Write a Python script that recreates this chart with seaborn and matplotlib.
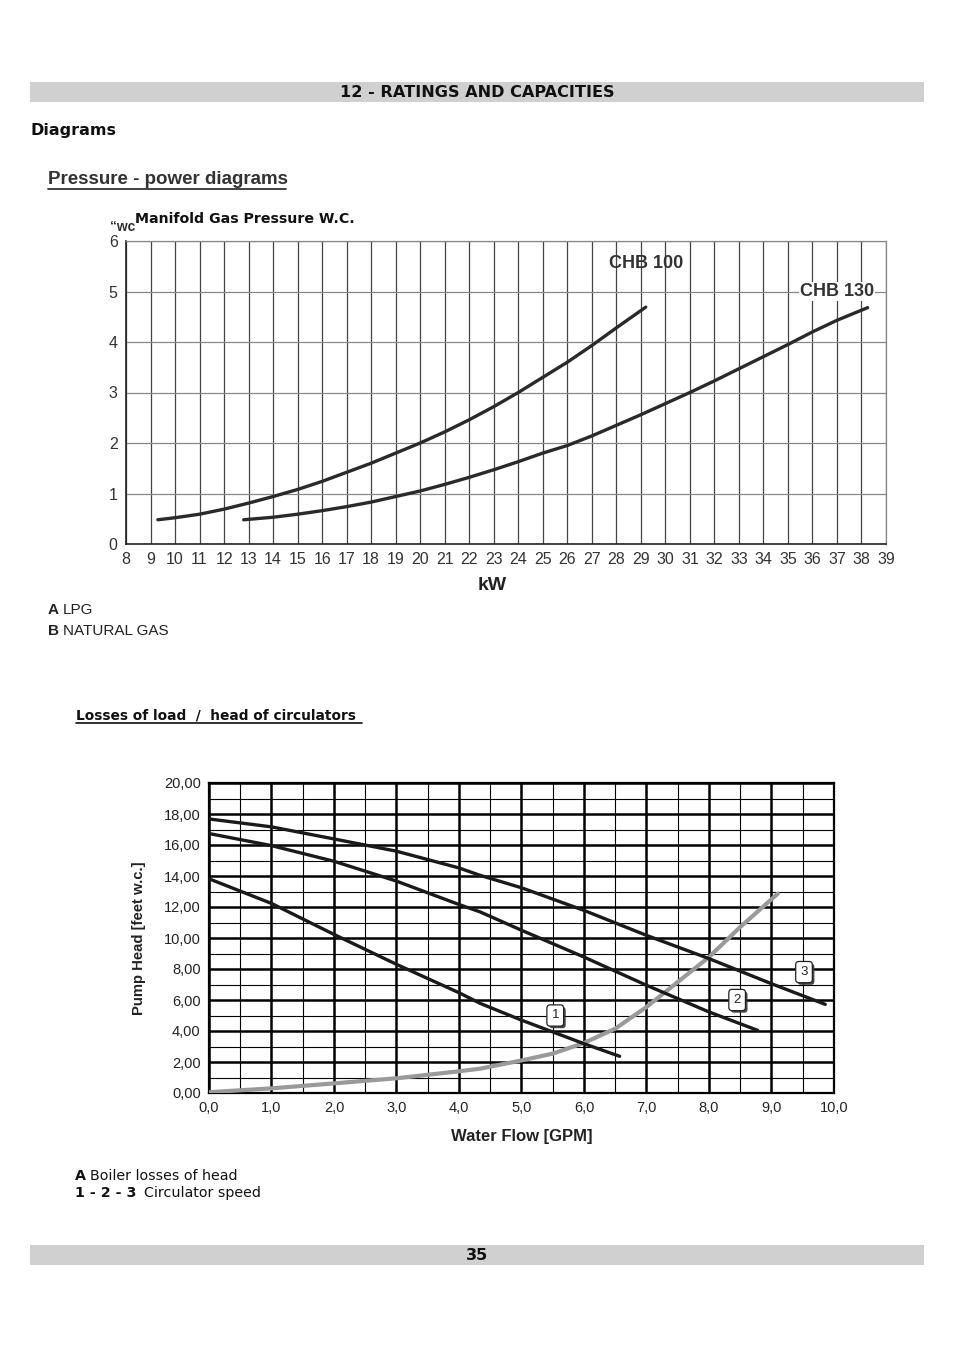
import matplotlib
matplotlib.use("Agg")
import matplotlib.pyplot as plt
import matplotlib.patheffects as pe
import seaborn as sns
import pandas as pd
from matplotlib.patches import Rectangle
from matplotlib.lines import Line2D

# ---------------- data ----------------
chb100_kw = [9.3, 10, 11, 12, 13, 14, 15, 16, 17, 18, 19, 20, 21, 22, 23, 24, 25, 26, 27, 28, 29.2]
chb100_p = [0.48, 0.52, 0.59, 0.69, 0.81, 0.94, 1.08, 1.24, 1.42, 1.60, 1.80, 2.00, 2.22, 2.46, 2.72,
            3.00, 3.30, 3.60, 3.93, 4.28, 4.69]
chb130_kw = [12.8, 14, 15, 16, 17, 18, 19, 20, 21, 22, 23, 24, 25, 26, 27, 28, 29, 30, 31, 32, 33,
             34, 35, 36, 37, 38.25]
chb130_p = [0.48, 0.53, 0.59, 0.66, 0.74, 0.83, 0.94, 1.05, 1.18, 1.32, 1.47, 1.63, 1.80, 1.95, 2.14,
            2.35, 2.56, 2.78, 3.00, 3.23, 3.47, 3.71, 3.95, 4.20, 4.43, 4.68]
top_xticks = list(range(8, 40))
top_yticks = list(range(0, 7))

flow_1 = [0, 1, 2, 3, 4, 4.34, 5, 5.5, 6, 6.57]
head_1 = [13.82, 12.23, 10.23, 8.30, 6.47, 5.78, 4.70, 3.94, 3.18, 2.37]
flow_2 = [0, 1, 2, 3, 4, 4.34, 5, 6, 7, 8, 8.78]
head_2 = [16.74, 15.96, 14.95, 13.67, 12.16, 11.68, 10.50, 8.77, 6.95, 5.23, 4.04]
flow_3 = [0, 1, 2, 3, 4, 4.34, 5, 6, 7, 8, 9, 9.86]
head_3 = [17.68, 17.17, 16.39, 15.60, 14.52, 14.04, 13.24, 11.78, 10.17, 8.67, 7.05, 5.72]
flow_A = [0, 1, 2, 3, 4, 4.34, 5, 5.5, 6, 6.5, 7, 7.5, 8, 8.5, 9.1]
loss_A = [0.05, 0.30, 0.62, 0.95, 1.40, 1.57, 2.10, 2.54, 3.23, 4.15, 5.55, 7.16, 8.77, 10.71, 12.86]
speed_labels = ["1", "2", "3"]
speed_label_pos = [(5.54, 5.0), (8.45, 6.0), (9.52, 7.8)]
bot_xticks = [0, 1, 2, 3, 4, 5, 6, 7, 8, 9, 10]
bot_yticks = [0, 2, 4, 6, 8, 10, 12, 14, 16, 18, 20]

# ---------------- figure ----------------
sns.set_style("white")
plt.rcParams['font.family'] = ['DejaVu Sans']
W, H = 954, 1350
fig = plt.figure(figsize=(W / 100, H / 100), dpi=100)

def fx(x):
    return x / W

def fy(y):
    return 1 - y / H

ARIAL = ['Liberation Sans', 'DejaVu Sans']
NARROW = ['Liberation Sans Narrow', 'Liberation Sans', 'DejaVu Sans']

# header / footer bars
for ytop, txt in [(82, "12 - RATINGS AND CAPACITIES"), (1245, "35")]:
    fig.patches.append(Rectangle((fx(30), fy(ytop + 20)), fx(894), 20 / H,
                                 transform=fig.transFigure, facecolor='#d0d0d0', edgecolor='none'))
    fig.text(fx(477), fy(ytop + 10.5), txt, ha='center', va='center', fontsize=11.6,
             fontweight='bold', color='#111111')

fig.text(fx(31), fy(130), "Diagrams", ha='left', va='center', fontsize=11.5, fontweight='bold',
         color='#111111')

fig.text(fx(48), fy(180), "Pressure - power diagrams", ha='left', va='center', fontsize=13.5,
         family=ARIAL, color='#333333', fontweight='bold')
fig.lines.append(Line2D([fx(48), fx(286)], [fy(189), fy(189)], transform=fig.transFigure,
                        color='#333333', lw=1.3))

# ---------------- top chart ----------------
ax1 = fig.add_axes([fx(126), fy(544), fx(760), 303 / H])
df100 = pd.DataFrame({"kW": chb100_kw, "p": chb100_p})
df130 = pd.DataFrame({"kW": chb130_kw, "p": chb130_p})
sns.lineplot(data=df100, x="kW", y="p", ax=ax1, color='#2a2a2a', lw=2.4, sort=False,
             estimator=None, zorder=5)
sns.lineplot(data=df130, x="kW", y="p", ax=ax1, color='#2a2a2a', lw=2.4, sort=False,
             estimator=None, zorder=5)
ax1.set_xlim(8, 39)
ax1.set_ylim(0, 6)
ax1.set_xticks(top_xticks)
ax1.set_yticks(top_yticks)
ax1.set_xticklabels([str(v) for v in top_xticks], family=NARROW, fontsize=11.5, color='#333333')
ax1.set_yticklabels([str(v) for v in top_yticks], family=NARROW, fontsize=11.5, color='#333333')
for v in top_xticks:
    ax1.axvline(v, color='#444444', lw=0.9, zorder=1)
for v in top_yticks:
    ax1.axhline(v, color='#888888', lw=0.9, zorder=1)
ax1.set_xlabel("")
ax1.set_ylabel("")
for s in ['top', 'right']:
    ax1.spines[s].set_color('#888888')
    ax1.spines[s].set_linewidth(0.9)
for s in ['left', 'bottom']:
    ax1.spines[s].set_color('#222222')
    ax1.spines[s].set_linewidth(1.2)
ax1.tick_params(axis='both', direction='out', length=4, width=1, color='#222222', pad=2)
ax1.text(29.2, 5.55, "CHB 100", ha='center', va='center', fontsize=13, fontweight='bold',
         family=ARIAL, color='#333333', zorder=6)
ax1.text(37.0, 5.0, "CHB 130", ha='center', va='center', fontsize=13, fontweight='bold',
         family=ARIAL, color='#333333', zorder=6,
         bbox=dict(facecolor='white', edgecolor='none', pad=0.5))

fig.text(fx(110), fy(227), "\u201cwc", ha='left', va='center', fontsize=10, fontweight='bold',
         family=NARROW, color='#333333')
fig.text(fx(135), fy(219), "Manifold Gas Pressure W.C.", ha='left', va='center', fontsize=10.2,
         fontweight='bold', color='#111111')
fig.text(fx(492), fy(585), "kW", ha='center', va='center', fontsize=14, fontweight='bold',
         family=NARROW, color='#222222')

fig.text(fx(48), fy(610), "A", ha='left', va='center', fontsize=11, family=ARIAL,
         fontweight='bold', color='#222222')
fig.text(fx(63), fy(610), "LPG", ha='left', va='center', fontsize=11, family=ARIAL, color='#222222')
fig.text(fx(48), fy(631), "B", ha='left', va='center', fontsize=11, family=ARIAL,
         fontweight='bold', color='#222222')
fig.text(fx(63), fy(631), "NATURAL GAS", ha='left', va='center', fontsize=11, family=ARIAL,
         color='#222222')

fig.text(fx(76), fy(715), "Losses of load  /  head of circulators", ha='left', va='center',
         fontsize=9.9, fontweight='bold', color='#111111')
fig.lines.append(Line2D([fx(76), fx(362)], [fy(723), fy(723)], transform=fig.transFigure,
                        color='#111111', lw=1.2))

# ---------------- bottom chart ----------------
ax2 = fig.add_axes([fx(209), fy(1093), fx(625), 310 / H])
for v in [i * 0.5 for i in range(21)]:
    thick = abs(v - round(v)) < 1e-9
    ax2.axvline(v, color='black', lw=1.8 if thick else 0.8, zorder=1)
for v in range(21):
    thick = v % 2 == 0
    ax2.axhline(v, color='black', lw=1.8 if thick else 0.8, zorder=1)

sns.lineplot(x=flow_A, y=loss_A, ax=ax2, color='#9a9a9a', lw=3.0, sort=False, estimator=None,
             zorder=4)
for fl, hd in [(flow_1, head_1), (flow_2, head_2), (flow_3, head_3)]:
    sns.lineplot(x=fl, y=hd, ax=ax2, color='#1a1a1a', lw=2.4, sort=False, estimator=None, zorder=5)

ax2.set_xlim(0, 10)
ax2.set_ylim(0, 20)
ax2.set_xticks(bot_xticks)
ax2.set_yticks(bot_yticks)
ax2.set_xticklabels([f"{v:.1f}".replace('.', ',') for v in bot_xticks], family=ARIAL,
                    fontsize=10.5, color='#222222')
ax2.set_yticklabels([f"{v:.2f}".replace('.', ',') for v in bot_yticks], family=ARIAL,
                    fontsize=10.5, color='#222222')
ax2.tick_params(axis='y', direction='out', length=4, width=1.2, color='black', pad=2)
ax2.tick_params(axis='x', direction='out', length=0, pad=6)
for s in ax2.spines.values():
    s.set_color('black')
    s.set_linewidth(1.6)
ax2.set_xlabel("Water Flow [GPM]", family=ARIAL, fontsize=12, fontweight='bold',
               color='#222222', labelpad=10)
ax2.set_ylabel("Pump Head [feet w.c.]", family=ARIAL, fontsize=10.7, fontweight='bold',
               color='#222222', labelpad=13)

for lab, (lx, ly) in zip(speed_labels, speed_label_pos):
    tx = ax2.text(lx, ly, lab, ha='center', va='center', fontsize=9.5, family=ARIAL,
                  color='#222222', zorder=8,
                  bbox=dict(boxstyle='round,pad=0.35,rounding_size=0.25', facecolor='white',
                            edgecolor='#222222', lw=0.9))
    tx.get_bbox_patch().set_path_effects([
        pe.SimplePatchShadow(offset=(1.5, -1.5), shadow_rgbFace='#333333', alpha=0.9),
        pe.Normal()])

fig.text(fx(75), fy(1176), "A", ha='left', va='center', fontsize=10.3, fontweight='bold',
         color='#111111')
fig.text(fx(90), fy(1176), "Boiler losses of head", ha='left', va='center', fontsize=10.3,
         color='#111111')
fig.text(fx(75), fy(1193), "1 - 2 - 3", ha='left', va='center', fontsize=10.3, fontweight='bold',
         color='#111111')
fig.text(fx(144), fy(1193), "Circulator speed", ha='left', va='center', fontsize=10.3,
         color='#111111')

fig.savefig("out.png", dpi=100, facecolor='white')
